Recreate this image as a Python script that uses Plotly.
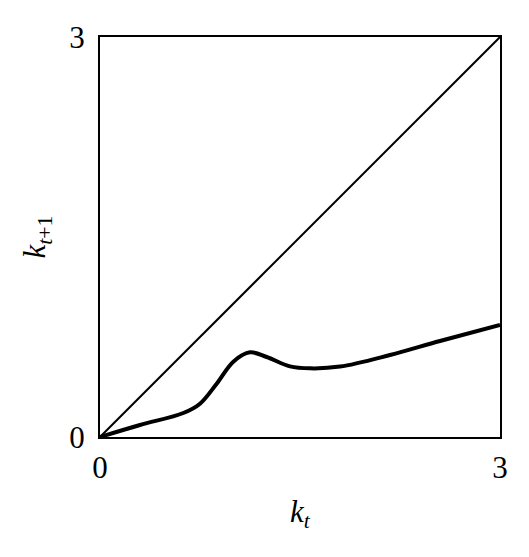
import plotly.graph_objects as go

# Data
k_t = [0.0, 0.3, 0.625, 0.75, 0.875, 1.0, 1.125, 1.25, 1.425, 1.575, 1.8, 2.175, 2.55, 3.0]
k_next = [0.0, 0.09, 0.18, 0.25, 0.40, 0.565, 0.635, 0.60, 0.53, 0.515, 0.528, 0.615, 0.72, 0.84]
diag = [0, 3]
tick_vals = [0, 3]
tick_text = ["0", "3"]

fig = go.Figure()
fig.add_trace(go.Scatter(x=diag, y=diag, mode="lines",
                         line=dict(color="black", width=2), showlegend=False))
fig.add_trace(go.Scatter(x=k_t, y=k_next, mode="lines",
                         line=dict(color="black", width=4, shape="spline", smoothing=1.0),
                         showlegend=False))

font = dict(family="Liberation Serif", size=31, color="black")
axis_common = dict(range=[0, 3], tickvals=tick_vals, ticktext=tick_text,
                   showgrid=False, zeroline=False, showline=True, linecolor="black",
                   linewidth=2, mirror=True, ticks="", tickfont=font)

fig.update_layout(
    width=529, height=557,
    margin=dict(l=92, r=37, t=29, b=128),
    plot_bgcolor="white", paper_bgcolor="white",
    xaxis=dict(**axis_common, ticklabelstandoff=2,
               title=dict(text="<i>k</i><sub><i>t</i></sub>", font=font, standoff=16)),
    yaxis=dict(**axis_common, ticklabelstandoff=7,
               title=dict(text="<i>k</i><sub><i>t</i>+1</sub>", font=font, standoff=14)),
)
fig.write_html("out.html")
